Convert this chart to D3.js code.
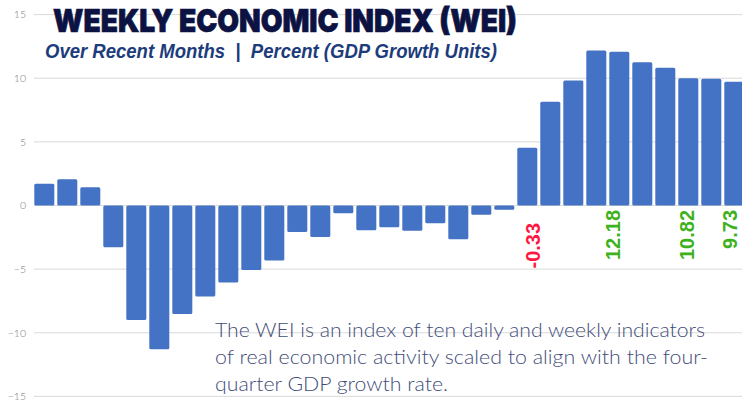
<!DOCTYPE html>
<html><head><meta charset="utf-8">
<script src="https://cdnjs.cloudflare.com/ajax/libs/d3/7.8.5/d3.min.js"></script>
<style>html,body{margin:0;padding:0;background:#fff;overflow:hidden}</style>
</head><body>
<svg id="c" width="742" height="402"></svg>
<script>
const values = [1.71, 2.06, 1.43, -3.28, -9.0, -11.3, -8.52, -7.16, -6.06, -5.07, -4.33, -2.08, -2.47, -0.61, -1.95, -1.71, -1.98, -1.40, -2.66, -0.72, -0.33, 4.54, 8.15, 9.83, 12.18, 12.08, 11.25, 10.82, 9.99, 9.96, 9.73];
const categories = values.map((d, i) => "W" + (i + 1));
const yTicks = [15, 10, 5, 0, -5, -10, -15];
const callouts = [
  {text: "-0.33", pos: 21.25, top: -1.37, color: "#ff1744"},
  {text: "12.18", pos: 24.74, top: -0.35, color: "#3db21d"},
  {text: "10.82", pos: 27.93, top: -0.35, color: "#3db21d"},
  {text: "9.73", pos: 29.81, top: -0.35, color: "#3db21d"}
];
const title = "WEEKLY ECONOMIC INDEX (WEI)";
const subtitle = "Over Recent Months  |  Percent (GDP Growth Units)";
const note = ["The WEI is an index of ten daily and weekly indicators",
              "of real economic activity scaled to align with the four-",
              "quarter GDP growth rate."];
const noteWidths = [490, 493, 233];

const svg = d3.select("#c");
const y = d3.scaleLinear().domain([-15, 15]).range([396.4, 14.6]);
const x = d3.scaleBand().domain(categories).range([32.8, 745.8]).paddingInner(0.13).paddingOuter(0.065);
const xi = d3.scaleLinear().domain([0, 1]).range([x(categories[0]) + x.bandwidth() / 2, x(categories[1]) + x.bandwidth() / 2]);

// grid
svg.append("g").selectAll("line").data(yTicks).join("line")
  .attr("x1", 34).attr("x2", 742)
  .attr("y1", d => y(d)).attr("y2", d => y(d))
  .attr("stroke", "#d9d9d9").attr("stroke-width", 1);

const yAxis = d3.axisLeft(y).tickValues(yTicks).tickSize(0).tickPadding(0);
const ga = svg.append("g").attr("transform", "translate(26,0)").call(yAxis);
ga.select(".domain").remove();
ga.selectAll("text").attr("font-family", "Lato, sans-serif").attr("font-size", 10.5)
  .attr("fill", "#777").attr("font-weight", 300);

// bars
svg.append("g").selectAll("rect").data(values).join("rect")
  .attr("x", (d, i) => x(categories[i]))
  .attr("width", x.bandwidth())
  .attr("y", d => y(Math.max(0, d)))
  .attr("height", d => Math.abs(y(d) - y(0)))
  .attr("rx", 1.5)
  .attr("fill", "#4472c4");

// callouts
svg.append("g").selectAll("text").data(callouts).join("text")
  .attr("transform", d => `translate(${xi(d.pos) + 7},${y(d.top)}) rotate(-90)`)
  .attr("text-anchor", "end")
  .attr("font-family", "Liberation Sans, Arial, sans-serif")
  .attr("font-weight", "bold").attr("font-size", 20)
  .attr("fill", d => d.color)
  .text(d => d.text);

// title
svg.append("text").attr("x", 53).attr("y", 32)
  .attr("font-family", "Inter, sans-serif").attr("font-weight", 900)
  .attr("font-size", 32).attr("fill", "#0c1242")
  .attr("stroke", "#0c1242").attr("stroke-width", 0.7)
  .attr("textLength", 464).attr("lengthAdjust", "spacingAndGlyphs")
  .text(title);
svg.append("text").attr("x", 45).attr("y", 57.5).attr("xml:space", "preserve")
  .style("white-space", "pre")
  .attr("font-family", "Liberation Sans, Arial, sans-serif").attr("font-weight", "bold")
  .attr("font-style", "italic").attr("font-size", 20).attr("fill", "#1d3c7c")
  .attr("textLength", 452).attr("lengthAdjust", "spacingAndGlyphs")
  .text(subtitle);

// note
svg.append("g").selectAll("text").data(note).join("text")
  .attr("x", 215).attr("y", (d, i) => 336.5 + i * 27)
  .attr("font-family", "Lato, sans-serif").attr("font-size", 20.5).attr("font-weight", 300)
  .attr("fill", "#3f4d78")
  .attr("textLength", (d, i) => noteWidths[i]).attr("lengthAdjust", "spacingAndGlyphs")
  .text(d => d);
</script>
</body></html>
